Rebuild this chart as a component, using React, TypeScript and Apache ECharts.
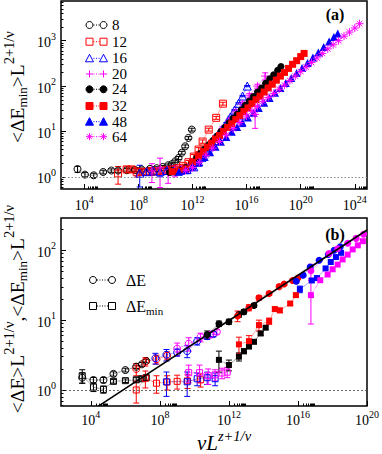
import React, { useEffect, useRef } from 'react';
import * as echarts from 'echarts';

const FONT = "'Liberation Serif','Times New Roman',serif";
const BLACK = '#000000';
const RED = '#ff0000';
const BLUE = '#0000ff';
const MAGENTA = '#ff00ff';

// ---- legend / tick label texts ----
const sizeLabels = ['8', '12', '16', '20', '24', '32', '48', '64'];
const aXTicks = [1e4, 1e8, 1e12, 1e16, 1e20, 1e24];
const aYTicks = [1, 10, 100, 1000];
const bXTicks = [1e4, 1e8, 1e12, 1e16, 1e20];
const bYTicks = [1, 10, 100];
const minorMult = [2, 3, 4, 5, 6, 7, 8, 9];

// ---- panel (a): x stored as log10 exponent, y as value, e as error ----
const a8X = [3.5, 4.05, 4.7, 5.4, 6.0, 6.5, 7.15, 7.75, 8.25, 8.85, 9.35, 9.8, 10.2, 10.47, 10.72, 10.97, 11.21, 11.46, 11.7, 11.95];
const a8Y = [1.48, 1.12, 1.08, 1.28, 1.38, 1.38, 1.4, 1.42, 1.45, 1.5, 1.55, 1.65, 1.8, 1.9, 2.2, 2.6, 3.4, 4.7, 7.2, 11];
const a8E = [0.22, 0.12, 0.12, 0.12, 0.12, 0.12, 0.12, 0.12, 0.12, 0.12, 0.12, 0.12, 0.12, 0.12, 0.15, 0.2, 0.25, 0.35, 0.5, 0.8];

const a12X = [6.5, 7.13, 7.5, 7.87, 8.24, 8.6, 8.98, 9.35, 9.72, 10.1, 10.5, 10.9, 11.3, 11.7, 12.1, 12.45, 12.75, 13.2, 13.75, 14.25];
const a12Y = [1.19, 1.46, 1.46, 1.29, 1.29, 1.29, 1.33, 1.33, 1.36, 1.4, 1.45, 1.55, 1.75, 2.1, 2.8, 4.0, 6.0, 11, 20, 41];
const a12E = [0.5, 0.2, 0.2, 0.3, 0.2, 0.2, 0.25, 0.2, 0.2, 0.2, 0.2, 0.15, 0.15, 0.2, 0.3, 0.4, 0.5, 0.8, 1.5, 3];

const a16X = [8.1, 8.6, 9.1, 9.6, 10.1, 10.6, 11.1, 11.6, 12.1, 12.4, 12.7, 13.0, 13.3, 13.6, 13.9, 14.2, 14.5, 14.8, 15.1, 15.4, 15.7, 16.05];
const a16Y = [1.2, 1.3, 1.35, 1.3, 1.38, 1.35, 1.4, 1.45, 1.66, 2.09, 2.69, 3.55, 4.79, 6.31, 8.51, 11.2, 15.1, 20.9, 29.5, 41.7, 60.3, 100];
const a16E = [0.6, 0.2, 0.2, 0.3, 0.2, 0.2, 0.15, 0.15, 0.15, 0.15, 0.2, 0.2, 0.3, 0.3, 0.4, 0.5, 0.6, 0.8, 1, 1.5, 2, 3];

const a20X = [9.0, 9.6, 10.2, 10.7, 11.2, 11.7, 12.2, 12.7, 13.2, 13.7, 14.2, 14.7, 15.2, 15.7, 16.2, 16.8, 17.37];
const a20Y = [1.35, 1.58, 1.22, 1.4, 1.45, 1.6, 2.09, 3.16, 4.9, 7.4, 11.5, 17.4, 26.9, 40.7, 63, 100, 166];
const a20E = [0.6, 1.0, 0.5, 0.4, 0.3, 0.3, 0.3, 0.4, 0.6, 0.8, 1.2, 2, 3, 4, 6, 10, 30];

const a24X = [10.3, 10.7, 11.1, 11.5, 11.95, 12.3, 12.6, 12.9, 13.2, 13.5, 13.8, 14.1, 14.4, 14.7, 15.0, 15.3, 15.6, 15.9, 16.2, 16.5, 16.8, 17.1, 17.4, 17.7, 18.0, 18.3, 18.54];
const a24Y = [1.25, 1.3, 1.4, 1.6, 2.0, 2.6, 3.3, 4.1, 5.1, 6.3, 7.9, 10, 12.3, 15.5, 19.5, 24, 30, 38, 47, 59, 74, 91, 115, 145, 178, 224, 269];
const a24E = [0.1, 0.1, 0.1, 0.1, 0.1, 0, 0, 0, 0, 0, 0, 0, 0, 0, 0, 0, 0, 0, 0, 0, 0, 0, 0, 0, 0, 0, 0];

const a32X = [10.5, 11.0, 11.5, 12.0, 12.45, 12.8, 13.1, 13.4, 13.7, 14.0, 14.3, 14.6, 14.9, 15.2, 15.5, 15.8, 16.1, 16.4, 16.7, 17.0, 17.3, 17.6, 17.9, 18.2, 18.5, 18.8, 19.1, 19.4, 19.7, 20.0, 20.25];
const a32Y = [1.3, 1.35, 1.5, 2.1, 2.9, 3.6, 4.5, 5.5, 6.8, 8.1, 10, 12.3, 14.8, 18.2, 22.4, 27.5, 33, 41, 50, 60, 74, 91, 110, 135, 166, 200, 245, 302, 363, 447, 525];
const a32E = [0.15, 0.15, 0.15, 0.15, 0.2, 0, 0, 0, 0, 0, 0, 0, 0, 0, 0, 0, 0, 0, 0, 0, 0, 0, 0, 0, 0, 0, 0, 0, 0, 0, 0];

const a48X = [11.0, 11.5, 12.0, 12.5, 12.9, 13.3, 13.7, 14.1, 14.5, 14.9, 15.3, 15.7, 16.1, 16.5, 16.9, 17.3, 17.7, 18.1, 18.5, 18.9, 19.3, 19.7, 20.1, 20.5, 20.9, 21.3, 21.7, 22.1, 22.45, 22.74];
const a48Y = [1.3, 1.4, 1.7, 2.1, 2.75, 3.5, 4.6, 5.9, 7.6, 9.8, 12.6, 15.8, 20.4, 25.7, 33, 42.7, 55, 71, 91, 117, 151, 195, 251, 324, 427, 550, 724, 955, 1200, 1445];
const a48E = [0.2, 0.2, 0.2, 0.2, 0, 0, 0, 0, 0, 0, 0, 3, 0, 0, 0, 0, 0, 0, 0, 0, 0, 0, 0, 0, 0, 0, 0, 0, 0, 0];

const a64X = [11.5, 12.0, 12.5, 13.0, 13.5, 14.0, 14.5, 15.0, 15.5, 16.0, 16.4, 16.63, 16.8, 17.2, 17.6, 18.0, 18.4, 18.8, 19.2, 19.6, 20.0, 20.4, 20.8, 21.2, 21.6, 22.0, 22.4, 22.8, 23.2, 23.6, 24.0, 24.35];
const a64Y = [1.4, 1.6, 2.1, 3.0, 4.3, 6.0, 8.3, 11.5, 15.8, 21.9, 28, 23.7, 36, 46, 56, 69, 85, 105, 132, 166, 209, 263, 331, 417, 525, 661, 813, 1000, 1259, 1549, 1905, 2371];
const a64E = [0.2, 0.2, 0, 0, 0, 0, 0, 0, 0, 0, 0, 12, 0, 0, 0, 0, 0, 0, 0, 0, 0, 0, 0, 0, 0, 0, 0, 0, 0, 0, 0, 0];

// ---- panel (b): ΔE (circles) and ΔE_min (squares) ----
const bE8X = [3.5, 4.15, 4.73, 5.31, 6.0, 6.63, 6.96, 7.21];
const bE8Y = [1.5, 1.39, 1.39, 1.7, 1.93, 2.15, 2.33, 2.6];
const bE8E = [0.25, 0.12, 0.12, 0.12, 0.12, 0.12, 0.15, 0.15];
const bM8X = [3.5, 4.15, 4.73, 5.31, 6.0, 6.63, 6.96, 7.21];
const bM8Y = [1.6, 1.1, 1.02, 1.33, 1.36, 1.4, 1.45, 1.5];
const bM8E = [0.35, 0.15, 0.12, 0.08, 0.08, 0.1, 0.1, 0.12];

const bE12X = [6.63, 7.16, 7.8, 8.42];
const bE12Y = [2.0, 2.55, 2.75, 3.1];
const bE12E = [0.4, 0.35, 0.4, 0.4];
const bM12X = [6.63, 7.16, 7.8, 8.42, 9.0, 9.6, 10.36];
const bM12Y = [1.0, 1.47, 1.25, 1.3, 1.33, 1.35, 1.4];
const bM12E = [0.35, 0.4, 0.35, 0.3, 0.3, 0.3, 0.3];

const bE16X = [7.74, 8.38, 9.0, 9.58, 10.16, 10.74, 11.1];
const bE16Y = [2.85, 3.2, 3.45, 3.6, 5.0, 5.9, 6.3];
const bE16E = [0.5, 0.6, 0.4, 0.7, 0.6, 0.6, 0.5];
const bM16X = [8.38, 9.58, 10.16, 10.74, 11.2];
const bM16Y = [1.31, 1.31, 1.45, 1.5, 1.45];
const bM16E = [0.5, 0.5, 0.3, 0.3, 0.3];

const bE20X = [9.0, 9.67, 10.35, 10.9, 11.3];
const bE20Y = [3.9, 4.6, 5.7, 6.2, 6.8];
const bE20E = [0.8, 1.0, 0.8, 0.6, 0.5];
const bM20X = [9.67, 10.3, 10.8, 11.2, 11.6, 11.9];
const bM20Y = [1.77, 1.77, 1.6, 1.65, 1.75, 1.8];
const bM20E = [0.5, 0.5, 0.4, 0.3, 0.3, 0.3];

const bE24X = [10.74, 11.42, 12.0, 12.58, 12.87, 13.45];
const bE24Y = [6.2, 8.9, 9.5, 12.0, 13.2, 16.2];
const bE24E = [0.8, 0.8, 0.8, 1, 1, 1];
const bM24X = [11.42, 12.0, 12.58, 12.87, 13.16, 13.45, 13.84, 14.13];
const bM24Y = [2.7, 2.28, 3.0, 3.6, 4.2, 4.9, 6.45, 7.8];
const bM24E = [0.9, 0.4, 0.4, 0.3, 0.3, 0.3, 0.4, 0.4];

const bE32X = [12.5, 13.16, 13.74, 14.33, 14.91, 15.2, 15.69, 16.0];
const bE32Y = [11.5, 15.1, 20.9, 24, 30.2, 33, 37, 40];
const bE32E = [2, 1.5, 1.5, 1.5, 1.5, 1.5, 1.5, 1.5];
const bM32X = [12.58, 13.16, 13.74, 14.33, 14.66, 14.95, 15.55, 15.88];
const bM32Y = [4.5, 5.0, 8.5, 9.7, 14.4, 13.8, 17.3, 22.8];
const bM32E = [1.2, 1.0, 1.5, 1, 1, 1, 1, 1];

const bE48X = [15.9, 16.3, 16.71, 17.23, 17.76, 18.1, 18.45];
const bE48Y = [36, 44, 57.5, 72, 87, 100, 112];
const bE48E = [2, 2, 2, 0, 0, 0, 0];
const bM48X = [16.11, 16.8, 17.1, 17.6, 17.9, 18.2, 18.5];
const bM48Y = [27.7, 37, 40, 55, 68, 80, 92];
const bM48E = [3, 2, 0, 0, 0, 0, 0];

const bE64X = [16.75, 17.8, 18.3, 18.88, 19.37, 19.8];
const bE64Y = [51, 90, 105, 126, 148, 170];
const bE64E = [12, 0, 0, 0, 0, 0];
const bM64X = [16.75, 17.29, 17.72, 18.01, 18.3, 18.59, 18.88, 19.17, 19.47, 19.76];
const bM64Y = [22.8, 37.3, 45, 53.5, 62.4, 74, 86.7, 103, 118, 135];
const bM64E = [14, 0, 0, 0, 0, 0, 0, 0, 0, 0];

// fitted power law in panel (b)
const fitX = [2.75e4, 1e20];
const fitY = [0.589, 195];

// axis ranges
const aXRange = [Math.pow(10, 2.28), Math.pow(10, 24.9)];
const aYRange = [0.54, 7500];
const bXRange = [Math.pow(10, 2.27), 1e20];
const bYRange = [0.59, 290];

const PLUS = 'path://M0,-10L0,10M-10,0L10,0';
const STAR = 'path://M0,-10L0,10M-10,0L10,0M-7,-7L7,7M-7,7L7,-7';

type Kind = 'circle' | 'rect' | 'triangle' | 'plus' | 'star';
const symOf: Record<Kind, string> = { circle: 'circle', rect: 'rect', triangle: 'triangle', plus: PLUS, star: STAR };

const tickRich = {
  b: { fontFamily: FONT, fontSize: 14, color: '#000', padding: [4, 0, 0, 0] },
  s: { fontFamily: FONT, fontSize: 10, color: '#000', padding: [0, 0, 9, 0] },
};
const supLabel = (v: number) => `{b|10}{s|${Math.round(Math.log10(v))}}`;

function minorTicks(range: number[]) {
  const out: number[] = [];
  for (let p = -1; p <= 25; p++) {
    for (const m of minorMult) {
      const v = m * Math.pow(10, p);
      if (v > range[0] && v < range[1]) out.push(v);
    }
  }
  return out;
}
function minorTicksEvery4(range: number[]) {
  const out: number[] = [];
  for (let p = 0; p <= 24; p += 4) {
    for (const m of minorMult) {
      const v = m * Math.pow(10, p);
      if (v > range[0] && v < range[1]) out.push(v);
    }
  }
  return out;
}

function logAxis(gridIndex: number, range: number[], ticks: number[], len: number, labels: boolean, position: string, margin = 5) {
  return {
    type: 'log',
    logBase: 10,
    gridIndex,
    position,
    min: range[0],
    max: range[1],
    axisLine: { show: false, onZero: false },
    splitLine: { show: false },
    minorTick: { show: false },
    axisTick: { show: true, inside: true, length: len, customValues: ticks, lineStyle: { color: '#000', width: 1 } },
    axisLabel: labels
      ? { show: true, customValues: ticks, margin, formatter: supLabel, rich: tickRich, color: '#000' }
      : { show: false },
  };
}

function lineSeries(xi: number, yi: number, xs: number[], ys: number[], color: string, kind: Kind, filled: boolean, size: number) {
  return {
    type: 'line',
    xAxisIndex: xi,
    yAxisIndex: yi,
    data: xs.map((e, i) => [Math.pow(10, e), ys[i]]),
    symbol: symOf[kind],
    symbolSize: size,
    showSymbol: true,
    silent: true,
    lineStyle: { color, width: 0.7, type: 'dotted' },
    itemStyle: {
      color: filled ? color : 'rgba(0,0,0,0)',
      borderColor: color,
      borderWidth: filled ? 0 : 1,
    },
    z: 4,
  };
}

function errSeries(xi: number, yi: number, xs: number[], ys: number[], es: number[], color: string) {
  const data: number[][] = [];
  xs.forEach((e, i) => {
    if (es[i] > 0) data.push([Math.pow(10, e), ys[i], es[i]]);
  });
  return {
    type: 'custom',
    xAxisIndex: xi,
    yAxisIndex: yi,
    clip: true,
    silent: true,
    dimensions: ['x', 'y', 'e'],
    encode: { x: 0, y: 1 },
    data,
    z: 3,
    renderItem: (_p: any, api: any) => {
      const x = api.value(0);
      const y = api.value(1);
      const e = api.value(2);
      const hi = api.coord([x, y + e]);
      const lo = api.coord([x, Math.max(y - e, 0.05)]);
      const st = { stroke: color, lineWidth: 1 };
      return {
        type: 'group',
        children: [
          { type: 'line', shape: { x1: hi[0], y1: hi[1], x2: lo[0], y2: lo[1] }, style: st },
          { type: 'line', shape: { x1: hi[0] - 3, y1: hi[1], x2: hi[0] + 3, y2: hi[1] }, style: st },
          { type: 'line', shape: { x1: lo[0] - 3, y1: lo[1], x2: lo[0] + 3, y2: lo[1] }, style: st },
        ],
      };
    },
  };
}

function markerEls(kind: Kind, cx: number, cy: number, color: string, filled: boolean, r = 3.5): any[] {
  const style = { fill: filled ? color : 'none', stroke: color, lineWidth: 1 };
  const ln = (x1: number, y1: number, x2: number, y2: number) => ({ type: 'line', shape: { x1, y1, x2, y2 }, style: { stroke: color, lineWidth: 1 } });
  switch (kind) {
    case 'circle':
      return [{ type: 'circle', shape: { cx, cy, r }, style }];
    case 'rect':
      return [{ type: 'rect', shape: { x: cx - r, y: cy - r, width: 2 * r, height: 2 * r }, style }];
    case 'triangle':
      return [{ type: 'polygon', shape: { points: [[cx, cy - r - 0.5], [cx + r + 0.5, cy + r], [cx - r - 0.5, cy + r]] }, style }];
    case 'plus':
      return [ln(cx - r, cy, cx + r, cy), ln(cx, cy - r, cx, cy + r)];
    default:
      return [
        ln(cx - r, cy, cx + r, cy),
        ln(cx, cy - r, cx, cy + r),
        ln(cx - r * 0.7, cy - r * 0.7, cx + r * 0.7, cy + r * 0.7),
        ln(cx - r * 0.7, cy + r * 0.7, cx + r * 0.7, cy - r * 0.7),
      ];
  }
}

function legendRow(kind: Kind, color: string, filled: boolean, y: number, x1: number, x2: number): any[] {
  return [
    ...markerEls(kind, x1, y, color, filled),
    { type: 'line', shape: { x1: x1 + 4, y1: y, x2: x2 - 4, y2: y }, style: { stroke: color, lineWidth: 1, lineDash: [1, 1.5] } },
    ...markerEls(kind, x2, y, color, filled),
  ];
}

const aSpecs: { x: number[]; y: number[]; e: number[]; c: string; k: Kind; f: boolean; s: number }[] = [
  { x: a8X, y: a8Y, e: a8E, c: BLACK, k: 'circle', f: false, s: 7 },
  { x: a12X, y: a12Y, e: a12E, c: RED, k: 'rect', f: false, s: 7 },
  { x: a16X, y: a16Y, e: a16E, c: BLUE, k: 'triangle', f: false, s: 8 },
  { x: a20X, y: a20Y, e: a20E, c: MAGENTA, k: 'plus', f: false, s: 8 },
  { x: a24X, y: a24Y, e: a24E, c: BLACK, k: 'circle', f: true, s: 7 },
  { x: a32X, y: a32Y, e: a32E, c: RED, k: 'rect', f: true, s: 7 },
  { x: a48X, y: a48Y, e: a48E, c: BLUE, k: 'triangle', f: true, s: 8 },
  { x: a64X, y: a64Y, e: a64E, c: MAGENTA, k: 'star', f: false, s: 8 },
];

const bSpecs: { x: number[]; y: number[]; e: number[]; c: string; k: Kind; f: boolean; s: number }[] = [
  { x: bE8X, y: bE8Y, e: bE8E, c: BLACK, k: 'circle', f: false, s: 7 },
  { x: bM8X, y: bM8Y, e: bM8E, c: BLACK, k: 'rect', f: false, s: 6 },
  { x: bE12X, y: bE12Y, e: bE12E, c: RED, k: 'circle', f: false, s: 7 },
  { x: bM12X, y: bM12Y, e: bM12E, c: RED, k: 'rect', f: false, s: 6 },
  { x: bE16X, y: bE16Y, e: bE16E, c: BLUE, k: 'circle', f: false, s: 7 },
  { x: bM16X, y: bM16Y, e: bM16E, c: BLUE, k: 'rect', f: false, s: 6 },
  { x: bE20X, y: bE20Y, e: bE20E, c: MAGENTA, k: 'circle', f: false, s: 7 },
  { x: bM20X, y: bM20Y, e: bM20E, c: MAGENTA, k: 'rect', f: false, s: 6 },
  { x: bE24X, y: bE24Y, e: bE24E, c: BLACK, k: 'circle', f: true, s: 7 },
  { x: bM24X, y: bM24Y, e: bM24E, c: BLACK, k: 'rect', f: true, s: 6 },
  { x: bE32X, y: bE32Y, e: bE32E, c: RED, k: 'circle', f: true, s: 7 },
  { x: bM32X, y: bM32Y, e: bM32E, c: RED, k: 'rect', f: true, s: 6 },
  { x: bE48X, y: bE48Y, e: bE48E, c: BLUE, k: 'circle', f: true, s: 7 },
  { x: bM48X, y: bM48Y, e: bM48E, c: BLUE, k: 'rect', f: true, s: 6 },
  { x: bE64X, y: bE64Y, e: bE64E, c: MAGENTA, k: 'circle', f: true, s: 7 },
  { x: bM64X, y: bM64Y, e: bM64E, c: MAGENTA, k: 'rect', f: true, s: 6 },
];

function buildOption() {
  const series: any[] = [];
  aSpecs.forEach((sp) => {
    series.push(errSeries(0, 0, sp.x, sp.y, sp.e, sp.c));
    series.push(lineSeries(0, 0, sp.x, sp.y, sp.c, sp.k, sp.f, sp.s));
  });
  bSpecs.forEach((sp) => {
    series.push(errSeries(2, 2, sp.x, sp.y, sp.e, sp.c));
    series.push(lineSeries(2, 2, sp.x, sp.y, sp.c, sp.k, sp.f, sp.s));
  });
  // reference line y = 1, panel (a)
  series.push({
    type: 'line', xAxisIndex: 0, yAxisIndex: 0, data: [], silent: true,
    markLine: { silent: true, symbol: ['none', 'none'], label: { show: false }, data: [{ yAxis: 1 }], lineStyle: { color: '#888', type: [1.5, 2], width: 1 } },
  });
  // fit line and y = 1 line, panel (b)
  series.push({
    type: 'line', xAxisIndex: 2, yAxisIndex: 2, silent: true,
    data: fitX.map((x, i) => [x, fitY[i]]),
    symbol: 'none',
    lineStyle: { color: '#000', width: 1.6 },
    z: 6,
    markLine: { silent: true, symbol: ['none', 'none'], label: { show: false }, data: [{ yAxis: 1 }], lineStyle: { color: '#444', type: [2, 2], width: 0.8 } },
  });

  const legendA: any[] = [];
  const rowsA = [25, 41.7, 58.3, 74, 89.3, 106, 121.7, 136.7];
  aSpecs.forEach((sp, i) => {
    legendA.push(...legendRow(sp.k, sp.c, sp.f, rowsA[i], 89.5, 103.5));
    legendA.push({ type: 'text', style: { text: sizeLabels[i], x: 112, y: rowsA[i], fontFamily: FONT, fontSize: 15, fill: '#000', align: 'left', verticalAlign: 'middle' } });
  });
  const legendB: any[] = [
    ...legendRow('circle', BLACK, false, 280, 93, 112),
    ...legendRow('rect', BLACK, false, 306, 93, 112),
    { type: 'text', style: { text: 'ΔE', x: 126, y: 280, fontFamily: FONT, fontSize: 16, fill: '#000', align: 'left', verticalAlign: 'middle' } },
    {
      type: 'text',
      style: {
        text: '{m|ΔE}{s|min}', x: 126, y: 306, align: 'left', verticalAlign: 'middle',
        rich: {
          m: { fontFamily: FONT, fontSize: 16, fill: '#000', color: '#000' },
          s: { fontFamily: FONT, fontSize: 11, fill: '#000', color: '#000', padding: [9, 0, 0, 0] },
        },
      },
    },
  ];

  const titleRich = {
    m: { fontFamily: FONT, fontSize: 19.5, color: '#000' },
    sub: { fontFamily: FONT, fontSize: 13, color: '#000', padding: [10, 0, 0, 0] },
    sup: { fontFamily: FONT, fontSize: 14.5, color: '#000', padding: [0, 0, 17, 0] },
    supi: { fontFamily: FONT, fontSize: 14.5, color: '#000', fontStyle: 'italic', padding: [0, 0, 15, 0] },
    mi: { fontFamily: FONT, fontSize: 21, color: '#000', fontStyle: 'italic' },
  };

  const graphic: any[] = [
    ...legendA,
    ...legendB,
    { type: 'text', style: { text: '(a)', x: 335, y: 14, fontFamily: FONT, fontSize: 16, fontWeight: 'bold', fill: '#000', align: 'center', verticalAlign: 'middle' } },
    { type: 'text', style: { text: '(b)', x: 335, y: 234, fontFamily: FONT, fontSize: 16, fontWeight: 'bold', fill: '#000', align: 'center', verticalAlign: 'middle' } },
    {
      type: 'text', x: 17, y: 87, rotation: Math.PI / 2,
      style: { text: '{m|<ΔE}{sub|min}{m|>L}{sup|2+1/ν}', rich: titleRich, align: 'center', verticalAlign: 'middle' },
    },
    {
      type: 'text', x: 17, y: 309, rotation: Math.PI / 2,
      style: { text: '{m|<ΔE>L}{sup|2+1/ν}{m|,<ΔE}{sub|min}{m|>L}{sup|2+1/ν}', rich: titleRich, align: 'center', verticalAlign: 'middle' },
    },
    {
      type: 'text', x: 224, y: 443,
      style: { text: '{mi|νL}{supi|z+1/ν}', rich: titleRich, align: 'center', verticalAlign: 'middle' },
    },
  ];

  return {
    animation: false,
    backgroundColor: '#ffffff',
    textStyle: { fontFamily: FONT },
    grid: [
      { left: 61, top: 1, width: 306, height: 188, show: true, borderColor: '#000', borderWidth: 1.5, backgroundColor: 'transparent' },
      { left: 61, top: 218, width: 306, height: 188, show: true, borderColor: '#000', borderWidth: 1.5, backgroundColor: 'transparent' },
    ],
    xAxis: [
      logAxis(0, aXRange, aXTicks, 5, true, 'bottom', 5),
      logAxis(0, aXRange, minorTicksEvery4(aXRange), 2.5, false, 'bottom'),
      logAxis(1, bXRange, bXTicks, 5, true, 'bottom', 3),
      logAxis(1, bXRange, minorTicksEvery4(bXRange), 2.5, false, 'bottom'),
    ],
    yAxis: [
      logAxis(0, aYRange, aYTicks, 5, true, 'left'),
      logAxis(0, aYRange, minorTicks(aYRange), 2.5, false, 'left'),
      logAxis(1, bYRange, bYTicks, 5, true, 'left'),
      logAxis(1, bYRange, minorTicks(bYRange), 2.5, false, 'left'),
    ],
    series,
    graphic,
  };
}

export default function App() {
  const ref = useRef<HTMLDivElement>(null);
  useEffect(() => {
    if (!ref.current) return;
    const chart = echarts.init(ref.current, undefined, { renderer: 'svg' });
    chart.setOption(buildOption() as any);
    return () => chart.dispose();
  }, []);
  return <div ref={ref} style={{ position: 'fixed', left: 0, top: 0, width: 382, height: 454, background: '#fff' }} />;
}
